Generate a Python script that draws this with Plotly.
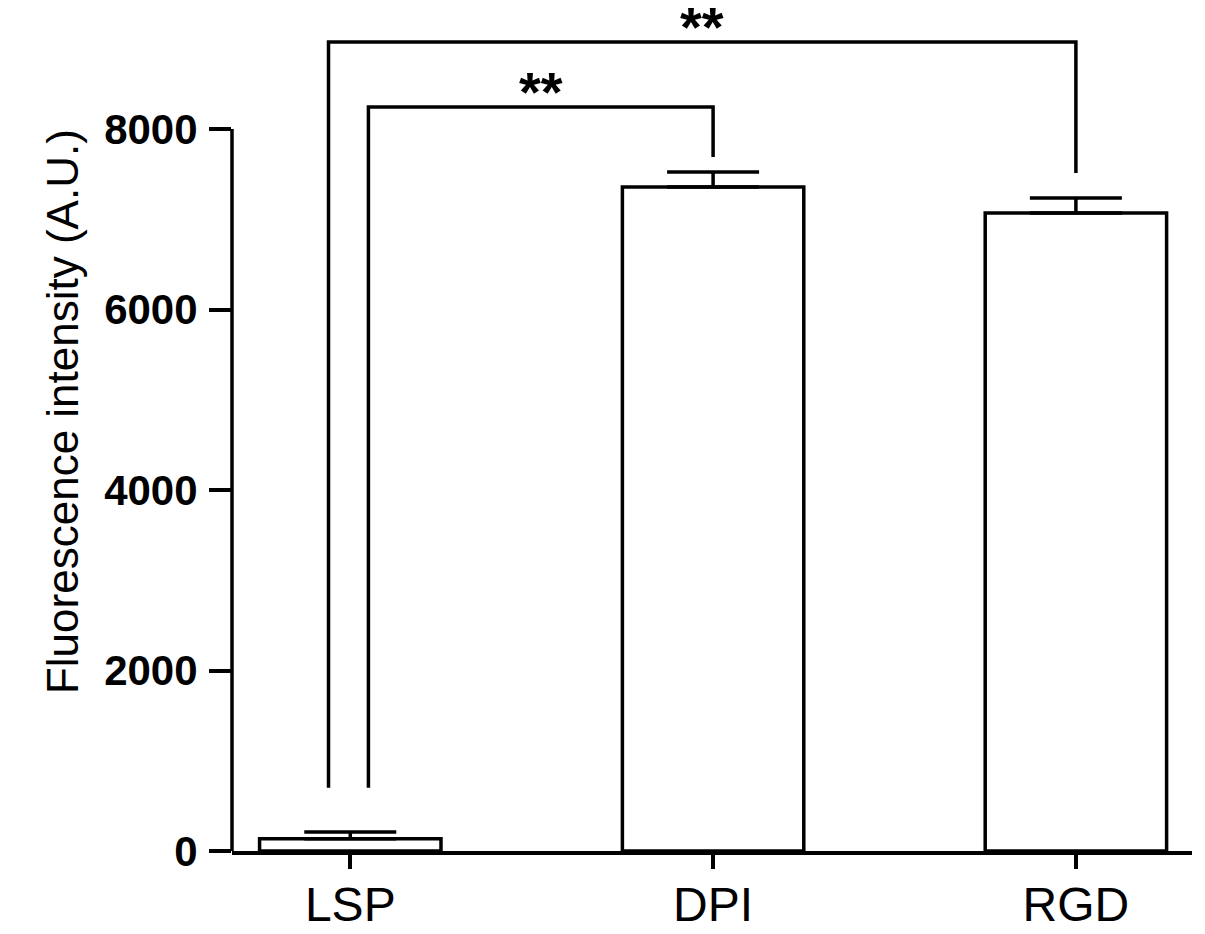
import plotly.graph_objects as go

categories = ["LSP", "DPI", "RGD"]
means = [135, 7357, 7069]
errors = [75, 166, 166]
y_ticks = [0, 2000, 4000, 6000, 8000]
y_tick_labels = ["0", "2000", "4000", "6000", "8000"]

# significance brackets: (left x, left bottom, top, right x, right bottom, label)
brackets = [
    (0.05, 700, 8244, 1.0, 7690, "**"),
    (-0.06, 700, 8964, 2.0, 7512, "**"),
]

FONT = "Arial, Liberation Sans, sans-serif"
LW = 3.5

fig = go.Figure()
fig.add_trace(go.Bar(
    x=[0, 1, 2], y=means, width=0.5,
    marker=dict(color="white", line=dict(color="black", width=LW)),
    error_y=dict(type="data", symmetric=False, array=errors,
                 arrayminus=[0, 0, 0], color="black", thickness=LW, width=46),
    showlegend=False,
))

for (xl, yl, yt, xr, yr, lab) in brackets:
    fig.add_trace(go.Scatter(
        x=[xl, xl, xr, xr], y=[yl, yt, yt, yr], mode="lines",
        line=dict(color="black", width=LW), showlegend=False, hoverinfo="skip",
    ))
    fig.add_annotation(x=(xl + xr) / 2, y=yt, xref="x", yref="y", text=lab,
                       showarrow=False, yanchor="bottom", yshift=-18,
                       font=dict(family=FONT, size=56, color="black", weight="bold"))

# y axis line from 0 to 8000
fig.add_shape(type="line", xref="paper", yref="y", x0=0, x1=0, y0=0, y1=8000,
              line=dict(color="black", width=LW))

fig.add_annotation(text="Fluorescence intensity (A.U.)", xref="paper", yref="y",
                   x=0, y=4864, xanchor="center", yanchor="middle", xshift=-170,
                   textangle=-90, showarrow=False,
                   font=dict(family=FONT, size=44, color="black"))

fig.update_layout(
    width=1197, height=926,
    margin=dict(l=224, r=13, t=2, b=83),
    plot_bgcolor="white", paper_bgcolor="white",
    xaxis=dict(range=[-0.326, 2.32], tickvals=[0, 1, 2], ticktext=categories,
               showline=True, linecolor="black", linewidth=LW, automargin=False,
               ticks="outside", ticklen=14, tickwidth=LW, tickcolor="black",
               showgrid=False, zeroline=False, ticklabelstandoff=-5,
               tickfont=dict(family=FONT, size=48, color="black")),
    yaxis=dict(range=[0, 9318.6], tickvals=y_ticks, ticktext=y_tick_labels,
               showline=False, ticks="outside", ticklen=22, tickwidth=LW,
               tickcolor="black", showgrid=False, zeroline=False, automargin=False,
               ticklabelstandoff=3,
               tickfont=dict(family=FONT, size=42, color="black", weight="bold")),
)

fig.write_html("out.html")
